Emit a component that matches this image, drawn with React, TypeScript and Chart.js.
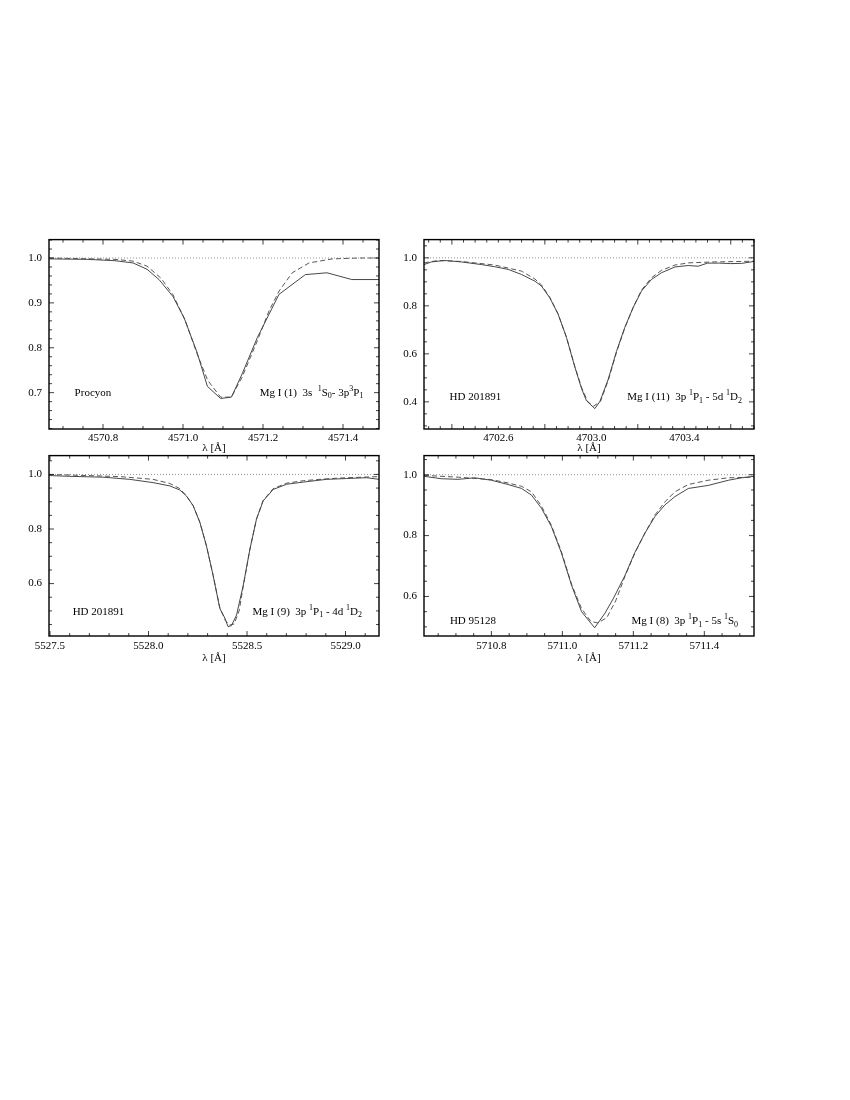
import React, { useEffect, useRef } from "react";
import { Chart, registerables } from "chart.js";

Chart.register(...registerables);

const FONT = "'Liberation Serif', 'Times New Roman', serif";

// ---------- Panel 1: Procyon, Mg I 4571 ----------
const p1XRange = [4570.665, 4571.49];
const p1YRange = [0.619, 1.041];
const p1XTicks = [4570.8, 4571.0, 4571.2, 4571.4];
const p1YTicks = [0.7, 0.8, 0.9, 1.0];
const p1ObsX = [4570.665, 4570.76, 4570.83, 4570.875, 4570.91, 4570.94, 4570.975, 4571.003, 4571.035, 4571.061, 4571.094, 4571.121, 4571.148, 4571.186, 4571.24, 4571.306, 4571.36, 4571.422, 4571.49];
const p1ObsY = [0.998, 0.997, 0.994, 0.989, 0.975, 0.952, 0.914, 0.866, 0.79, 0.714, 0.687, 0.69, 0.742, 0.823, 0.919, 0.963, 0.967, 0.952, 0.952];
const p1SynX = [4570.665, 4570.83, 4570.875, 4570.91, 4570.945, 4570.975, 4571.005, 4571.035, 4571.062, 4571.094, 4571.121, 4571.148, 4571.186, 4571.215, 4571.24, 4571.273, 4571.315, 4571.373, 4571.44, 4571.49];
const p1SynY = [1.0, 0.997, 0.993, 0.982, 0.955, 0.918, 0.862, 0.787, 0.727, 0.69, 0.69, 0.735, 0.816, 0.882, 0.926, 0.967, 0.989, 0.998, 1.0, 1.0];

// ---------- Panel 2: HD 201891, Mg I 4703 ----------
const p2XRange = [4702.28, 4703.7];
const p2YRange = [0.287, 1.076];
const p2XTicks = [4702.6, 4703.0, 4703.4];
const p2YTicks = [0.4, 0.6, 0.8, 1.0];
const p2ObsX = [4702.28, 4702.312, 4702.369, 4702.441, 4702.527, 4702.584, 4702.642, 4702.699, 4702.757, 4702.785, 4702.821, 4702.857, 4702.893, 4702.929, 4702.958, 4702.979, 4703.015, 4703.037, 4703.073, 4703.108, 4703.144, 4703.18, 4703.216, 4703.259, 4703.302, 4703.36, 4703.417, 4703.46, 4703.5, 4703.55, 4703.6, 4703.647, 4703.7];
const p2ObsY = [0.972, 0.983, 0.989, 0.983, 0.972, 0.963, 0.952, 0.931, 0.903, 0.883, 0.834, 0.766, 0.669, 0.545, 0.455, 0.405, 0.372, 0.402, 0.495, 0.61, 0.71, 0.793, 0.862, 0.91, 0.938, 0.962, 0.968, 0.965, 0.978, 0.978, 0.976, 0.977, 0.985];
const p2SynX = [4702.28, 4702.34, 4702.44, 4702.584, 4702.699, 4702.757, 4702.785, 4702.821, 4702.857, 4702.893, 4702.929, 4702.958, 4702.985, 4703.01, 4703.04, 4703.073, 4703.108, 4703.144, 4703.18, 4703.216, 4703.259, 4703.302, 4703.36, 4703.417, 4703.532, 4703.7];
const p2SynY = [0.979, 0.989, 0.985, 0.97, 0.945, 0.912, 0.888, 0.836, 0.766, 0.669, 0.548, 0.46, 0.4, 0.382, 0.403, 0.49, 0.605, 0.708, 0.793, 0.866, 0.917, 0.948, 0.97, 0.979, 0.983, 0.986];

// ---------- Panel 3: HD 201891, Mg I 5528 ----------
const p3XRange = [5527.495, 5529.17];
const p3YRange = [0.408, 1.069];
const p3XTicks = [5527.5, 5528.0, 5528.5, 5529.0];
const p3YTicks = [0.6, 0.8, 1.0];
const p3ObsX = [5527.495, 5527.6, 5527.769, 5527.905, 5528.023, 5528.108, 5528.159, 5528.193, 5528.227, 5528.261, 5528.294, 5528.328, 5528.362, 5528.388, 5528.404, 5528.421, 5528.447, 5528.481, 5528.515, 5528.548, 5528.582, 5528.633, 5528.701, 5528.786, 5528.904, 5529.006, 5529.107, 5529.17];
const p3ObsY = [0.996, 0.993, 0.99, 0.982, 0.97, 0.958, 0.943, 0.921, 0.885, 0.824, 0.739, 0.63, 0.509, 0.473, 0.442, 0.446, 0.485, 0.594, 0.727, 0.836, 0.903, 0.945, 0.964, 0.972, 0.982, 0.985, 0.988, 0.982];
const p3SynX = [5527.495, 5527.685, 5527.855, 5528.023, 5528.108, 5528.159, 5528.193, 5528.227, 5528.261, 5528.294, 5528.328, 5528.362, 5528.39, 5528.412, 5528.435, 5528.46, 5528.481, 5528.515, 5528.548, 5528.582, 5528.633, 5528.701, 5528.786, 5528.904, 5529.006, 5529.17];
const p3SynY = [1.0, 0.996, 0.992, 0.982, 0.967, 0.948, 0.921, 0.885, 0.824, 0.739, 0.63, 0.512, 0.465, 0.448, 0.452, 0.5, 0.59, 0.727, 0.836, 0.905, 0.948, 0.968, 0.977, 0.984, 0.988, 0.992];

// ---------- Panel 4: HD 95128, Mg I 5711 ----------
const p4XRange = [5710.61, 5711.54];
const p4YRange = [0.47, 1.063];
const p4XTicks = [5710.8, 5711.0, 5711.2, 5711.4];
const p4YTicks = [0.6, 0.8, 1.0];
const p4ObsX = [5710.61, 5710.659, 5710.706, 5710.753, 5710.8, 5710.847, 5710.885, 5710.913, 5710.941, 5710.969, 5710.997, 5711.026, 5711.054, 5711.091, 5711.12, 5711.143, 5711.176, 5711.204, 5711.233, 5711.261, 5711.289, 5711.317, 5711.355, 5711.411, 5711.468, 5711.505, 5711.54];
const p4ObsY = [0.995, 0.987, 0.985, 0.99, 0.982, 0.968, 0.955, 0.933, 0.89, 0.83, 0.744, 0.636, 0.55, 0.497, 0.545, 0.592, 0.668, 0.744, 0.809, 0.863, 0.901, 0.928, 0.955, 0.965, 0.982, 0.99, 0.995];
const p4SynX = [5710.61, 5710.706, 5710.8, 5710.847, 5710.885, 5710.913, 5710.941, 5710.969, 5710.997, 5711.026, 5711.054, 5711.08, 5711.1, 5711.125, 5711.15, 5711.176, 5711.204, 5711.233, 5711.261, 5711.289, 5711.317, 5711.355, 5711.411, 5711.468, 5711.54];
const p4SynY = [0.998, 0.992, 0.984, 0.973, 0.962, 0.944, 0.897, 0.834, 0.748, 0.64, 0.56, 0.518, 0.513, 0.53, 0.585, 0.665, 0.742, 0.809, 0.868, 0.911, 0.944, 0.968, 0.982, 0.99, 0.992];

const starNames = ["Procyon", "HD 201891", "HD 201891", "HD 95128"];
const lineNames = [
  "Mg I (1)  3s  ^1S_0- 3p^3P_1",
  "Mg I (11)  3p ^1P_1 - 5d ^1D_2",
  "Mg I (9)  3p ^1P_1 - 4d ^1D_2",
  "Mg I (8)  3p ^1P_1 - 5s ^1S_0",
];
// label anchors in data coordinates: [starX, lineRightX, y]
const labelAnchors = [
  [4570.729, 4571.451, 0.7],
  [4702.39, 4703.648, 0.42],
  [5527.615, 5529.084, 0.497],
  [5710.683, 5711.495, 0.519],
];

type Panel = {
  left: number; top: number; xAxisH: number; xPad: number; padBottom: number;
  xRange: number[]; yRange: number[]; xTicks: number[]; yTicks: number[];
  xMinor: number; yMinor: number; xMajor: number; yMajor: number;
  obsX: number[]; obsY: number[]; synX: number[]; synY: number[];
  idx: number;
};

const panels: Panel[] = [
  { left: 0, top: 226, xAxisH: 26, xPad: 3, padBottom: 1, xRange: p1XRange, yRange: p1YRange, xTicks: p1XTicks, yTicks: p1YTicks, xMinor: 0.05, yMinor: 0.02, xMajor: 0.2, yMajor: 0.1, obsX: p1ObsX, obsY: p1ObsY, synX: p1SynX, synY: p1SynY, idx: 0 },
  { left: 375, top: 226, xAxisH: 26, xPad: 3, padBottom: 1, xRange: p2XRange, yRange: p2YRange, xTicks: p2XTicks, yTicks: p2YTicks, xMinor: 0.05, yMinor: 0.05, xMajor: 0.4, yMajor: 0.2, obsX: p2ObsX, obsY: p2ObsY, synX: p2SynX, synY: p2SynY, idx: 1 },
  { left: 0, top: 442, xAxisH: 29, xPad: 4, padBottom: 7, xRange: p3XRange, yRange: p3YRange, xTicks: p3XTicks, yTicks: p3YTicks, xMinor: 0.1, yMinor: 0.05, xMajor: 0.5, yMajor: 0.2, obsX: p3ObsX, obsY: p3ObsY, synX: p3SynX, synY: p3SynY, idx: 2 },
  { left: 375, top: 442, xAxisH: 29, xPad: 4, padBottom: 7, xRange: p4XRange, yRange: p4YRange, xTicks: p4XTicks, yTicks: p4YTicks, xMinor: 0.05, yMinor: 0.05, xMajor: 0.2, yMajor: 0.2, obsX: p4ObsX, obsY: p4ObsY, synX: p4SynX, synY: p4SynY, idx: 3 },
];

const CW = 392;
const CH = 230;

function stepsIn(min: number, max: number, step: number): number[] {
  const out: number[] = [];
  const k0 = Math.ceil(min / step - 1e-6);
  const k1 = Math.floor(max / step + 1e-6);
  for (let k = k0; k <= k1; k++) out.push(+(k * step).toFixed(6));
  return out;
}

function drawRich(ctx: CanvasRenderingContext2D, text: string, x: number, y: number, alignRight: boolean) {
  const segs: { t: string; k: number }[] = [];
  let buf = "";
  for (let i = 0; i < text.length; i++) {
    const c = text[i];
    if ((c === "^" || c === "_") && i + 1 < text.length) {
      if (buf) segs.push({ t: buf, k: 0 });
      buf = "";
      segs.push({ t: text[i + 1], k: c === "^" ? 1 : -1 });
      i++;
    } else buf += c;
  }
  if (buf) segs.push({ t: buf, k: 0 });
  const main = `11px ${FONT}`;
  const small = `8px ${FONT}`;
  let total = 0;
  for (const s of segs) {
    ctx.font = s.k === 0 ? main : small;
    total += ctx.measureText(s.t).width;
  }
  let cx = alignRight ? x - total : x;
  ctx.textBaseline = "middle";
  ctx.textAlign = "left";
  for (const s of segs) {
    ctx.font = s.k === 0 ? main : small;
    const dy = s.k === 1 ? -4 : s.k === -1 ? 3.5 : 0;
    ctx.fillText(s.t, cx, y + dy);
    cx += ctx.measureText(s.t).width;
  }
}

const framePlugin = {
  id: "frameTicks",
  afterDatasetsDraw(chart: any, _args: any, opts: any) {
    const { ctx, chartArea: a, scales } = chart;
    const xs = scales.x;
    const ys = scales.y;
    const p: Panel = opts.panel;
    ctx.save();
    ctx.strokeStyle = "#111";
    ctx.lineWidth = 0.8;
    const seg = (x1: number, y1: number, x2: number, y2: number) => {
      ctx.beginPath();
      ctx.moveTo(x1, y1);
      ctx.lineTo(x2, y2);
      ctx.stroke();
    };
    for (const v of stepsIn(p.xRange[0], p.xRange[1], p.xMinor)) {
      const isMajor = Math.abs(v / p.xMajor - Math.round(v / p.xMajor)) < 1e-4;
      const len = isMajor ? 5 : 3;
      const px = xs.getPixelForValue(v);
      seg(px, a.bottom, px, a.bottom - len);
      seg(px, a.top, px, a.top + len);
    }
    for (const v of stepsIn(p.yRange[0], p.yRange[1], p.yMinor)) {
      const isMajor = Math.abs(v / p.yMajor - Math.round(v / p.yMajor)) < 1e-4;
      const len = isMajor ? 5 : 3;
      const py = ys.getPixelForValue(v);
      seg(a.left, py, a.left + len, py);
      seg(a.right, py, a.right - len, py);
    }
    ctx.lineWidth = 1.4;
    ctx.strokeStyle = "#000";
    ctx.strokeRect(a.left, a.top, a.right - a.left, a.bottom - a.top);

    ctx.fillStyle = "#000";
    const [sx, lx, ly] = labelAnchors[p.idx];
    const yy = ys.getPixelForValue(ly);
    ctx.font = `11px ${FONT}`;
    ctx.textBaseline = "middle";
    ctx.textAlign = "left";
    ctx.fillText(starNames[p.idx], xs.getPixelForValue(sx), yy);
    drawRich(ctx, lineNames[p.idx], xs.getPixelForValue(lx), yy, true);
    ctx.restore();
  },
};

function PanelChart({ p }: { p: Panel }) {
  const ref = useRef<HTMLCanvasElement | null>(null);
  useEffect(() => {
    if (!ref.current) return;
    const font = { family: FONT, size: 11 };
    const chart = new Chart(ref.current, {
      type: "line",
      data: {
        datasets: [
          {
            data: [{ x: p.xRange[0], y: 1 }, { x: p.xRange[1], y: 1 }],
            borderColor: "#777",
            borderWidth: 0.8,
            borderDash: [1, 2],
            pointRadius: 0,
          },
          {
            data: p.synX.map((x, i) => ({ x, y: p.synY[i] })),
            borderColor: "#444",
            borderWidth: 0.9,
            borderDash: [5, 3],
            pointRadius: 0,
            tension: 0,
          },
          {
            data: p.obsX.map((x, i) => ({ x, y: p.obsY[i] })),
            borderColor: "#333",
            borderWidth: 0.9,
            pointRadius: 0,
            tension: 0,
          },
        ],
      },
      options: {
        animation: false,
        responsive: false,
        maintainAspectRatio: false,
        events: [],
        layout: { padding: { left: 0, right: 13, top: 12, bottom: p.padBottom } },
        plugins: {
          legend: { display: false },
          tooltip: { enabled: false },
          frameTicks: { panel: p },
        } as any,
        scales: {
          x: {
            type: "linear",
            min: p.xRange[0],
            max: p.xRange[1],
            grid: { display: false, drawTicks: false, tickLength: 0 },
            border: { display: false },
            afterBuildTicks: (s: any) => {
              s.ticks = p.xTicks.map((v) => ({ value: v }));
            },
            afterFit: (s: any) => {
              s.height = p.xAxisH;
            },
            ticks: {
              font,
              color: "#000",
              padding: p.xPad,
              maxRotation: 0,
              autoSkip: false,
              callback: (v: any) => Number(v).toFixed(1),
            },
            title: { display: true, text: "λ [Å]", font, color: "#000", padding: 0 },
          },
          y: {
            type: "linear",
            min: p.yRange[0],
            max: p.yRange[1],
            grid: { display: false, drawTicks: false, tickLength: 0 },
            border: { display: false },
            afterBuildTicks: (s: any) => {
              s.ticks = p.yTicks.map((v) => ({ value: v }));
            },
            afterFit: (s: any) => {
              s.width = 49;
            },
            ticks: {
              font,
              color: "#000",
              padding: 7,
              autoSkip: false,
              callback: (v: any) => Number(v).toFixed(1),
            },
          },
        },
      },
      plugins: [framePlugin],
    } as any);
    return () => chart.destroy();
  }, [p]);
  return (
    <canvas
      ref={ref}
      width={CW}
      height={CH}
      style={{ position: "absolute", left: p.left, top: p.top, width: CW, height: CH }}
    />
  );
}

export default function App() {
  return (
    <div style={{ position: "relative", width: 834, height: 1084 }}>
      {panels.map((p) => (
        <div key={p.idx} style={{ position: "absolute", left: -8, top: -8 }}>
          <PanelChart p={p} />
        </div>
      ))}
    </div>
  );
}
